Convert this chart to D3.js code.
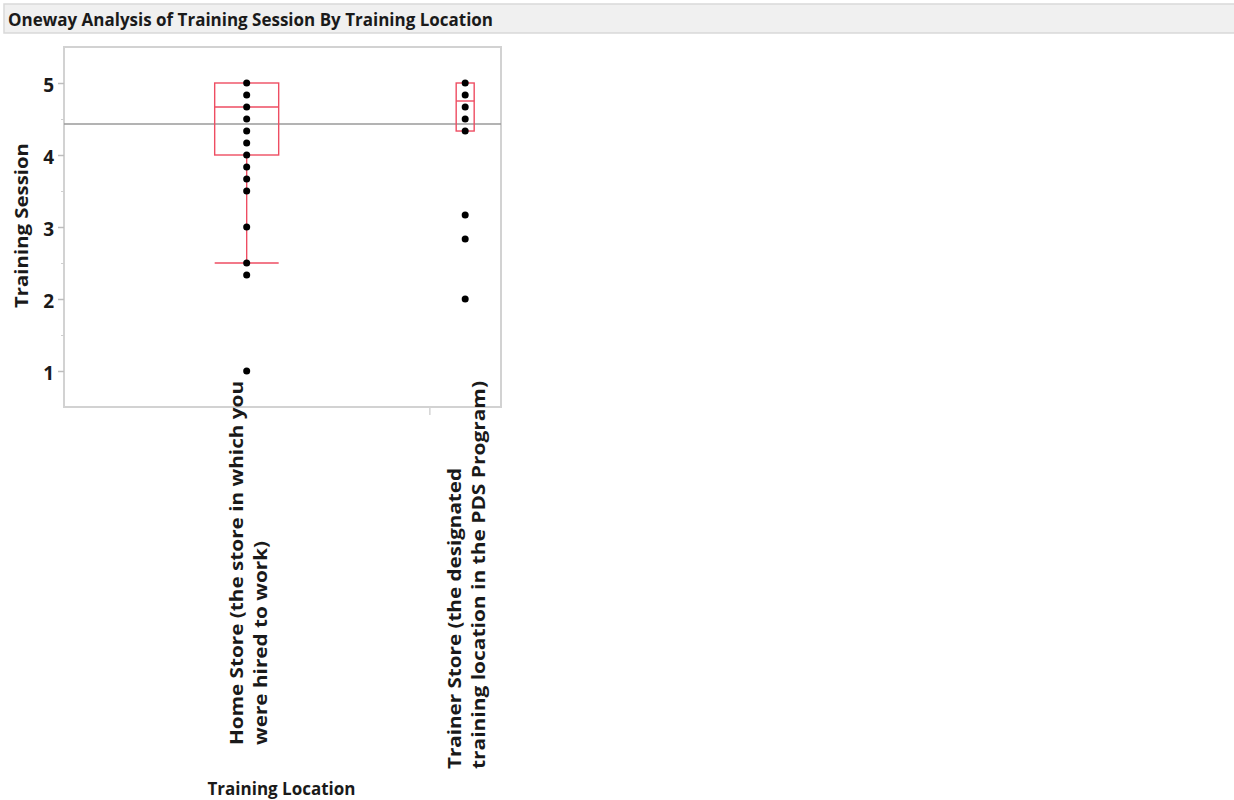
<!DOCTYPE html>
<html>
<head>
<meta charset="utf-8">
<script src="https://cdn.jsdelivr.net/npm/d3@7"></script>
<style>
  html, body { margin: 0; padding: 0; background: #ffffff; }
  svg { display: block; }
  text { font-family: "Open Sans", "DejaVu Sans", sans-serif; font-weight: 700; fill: #1a1a1a; }
</style>
</head>
<body>
<svg id="chart" width="1234" height="800"></svg>
<script>
// ---- data ----
const titleText = "Oneway Analysis of Training Session By Training Location";
const yTitle = "Training Session";
const xTitle = "Training Location";
const categories = ["Home Store", "Trainer Store"];
const categoryLabelLines = [
  ["Home Store (the store in which you", "were hired to work)"],
  ["Trainer Store (the designated", "training location in the PDS Program)"]
];
// relative group sizes (JMP makes each group's x band proportional to n)
const groupSizes = [51, 10];
const homeValues = [5, 4.833, 4.667, 4.5, 4.333, 4.167, 4, 3.833, 3.667, 3.5, 3, 2.5, 2.333, 1];
const trainerValues = [5, 4.833, 4.667, 4.5, 4.333, 3.167, 2.833, 2];
const q1Values = [4, 4.333];
const medianValues = [4.667, 4.75];
const q3Values = [5, 5];
const whiskerLow = [2.5, 4.333];
const whiskerHigh = [5, 5];
const grandMean = 4.43;
const yTicks = [1, 2, 3, 4, 5];
const yMinorTicks = [1.5, 2.5, 3.5, 4.5];

// ---- layout ----
const frame = { left: 64, right: 501, top: 47, bottom: 407 };
const boxWidths = [64, 18];
const boxColor = "#ee4d62";

const svg = d3.select("#chart");

// title bar
svg.append("rect")
  .attr("x", 4).attr("y", 4).attr("width", 1232).attr("height", 29)
  .attr("fill", "#f0f0f0").attr("stroke", "#d9d9d9").attr("stroke-width", 1.5);
svg.append("text")
  .attr("x", 8).attr("y", 26)
  .attr("font-size", 18)
  .attr("textLength", 485).attr("lengthAdjust", "spacingAndGlyphs")
  .text(titleText);

// scales
const y = d3.scaleLinear().domain([0.5, 5.5]).range([frame.bottom, frame.top]);
const totalN = d3.sum(groupSizes);
const x = d3.scaleLinear().domain([0, totalN]).range([frame.left, frame.right]);
const starts = groupSizes.map((d, i) => d3.sum(groupSizes.slice(0, i)));
const centers = groupSizes.map((d, i) => x(starts[i] + d / 2));

// frame
svg.append("rect")
  .attr("x", frame.left).attr("y", frame.top)
  .attr("width", frame.right - frame.left).attr("height", frame.bottom - frame.top)
  .attr("fill", "none").attr("stroke", "#d2d2d2").attr("stroke-width", 2);

// y axis
const yAxis = d3.axisLeft(y).tickValues(yTicks).tickSize(6).tickPadding(4).tickFormat(d3.format("d"));
const gy = svg.append("g").attr("transform", `translate(${frame.left},0)`).call(yAxis);
gy.select(".domain").remove();
gy.selectAll(".tick line").attr("stroke", "#bdbdbd").attr("stroke-width", 1.5);
gy.selectAll(".tick text")
  .attr("font-size", 19).attr("dy", "0.45em")
  .style("font-family", "\"Open Sans\", sans-serif").style("font-weight", 700).attr("fill", "#1a1a1a");
const gyMinor = svg.append("g").attr("transform", `translate(${frame.left},0)`)
  .call(d3.axisLeft(y).tickValues(yMinorTicks).tickSize(3).tickFormat(""));
gyMinor.select(".domain").remove();
gyMinor.selectAll(".tick line").attr("stroke", "#cfcfcf").attr("stroke-width", 1);

svg.append("text")
  .attr("transform", `translate(28,${(143 + 308) / 2}) rotate(-90)`)
  .attr("text-anchor", "middle")
  .attr("font-size", 17)
  .attr("textLength", 165).attr("lengthAdjust", "spacingAndGlyphs")
  .text(yTitle);

// x boundary ticks between groups
const gx = svg.append("g").attr("transform", `translate(0,${frame.bottom})`)
  .call(d3.axisBottom(x).tickValues(starts.slice(1)).tickSize(8).tickFormat(""));
gx.select(".domain").remove();
gx.selectAll(".tick line").attr("stroke", "#d4d4d4").attr("stroke-width", 1.5);

// grand mean line
svg.append("line")
  .attr("x1", frame.left).attr("x2", frame.right)
  .attr("y1", y(grandMean)).attr("y2", y(grandMean))
  .attr("stroke", "#9a9a9a").attr("stroke-width", 1.6);

// box plots
const boxes = svg.append("g");
categories.forEach((c, i) => {
  const cx = centers[i], w = boxWidths[i];
  const g = boxes.append("g").attr("stroke", boxColor).attr("stroke-width", 1.4).attr("fill", "none");
  g.append("rect")
    .attr("x", cx - w / 2).attr("y", y(q3Values[i]))
    .attr("width", w).attr("height", y(q1Values[i]) - y(q3Values[i]));
  g.append("line")
    .attr("x1", cx - w / 2).attr("x2", cx + w / 2)
    .attr("y1", y(medianValues[i])).attr("y2", y(medianValues[i]));
  if (whiskerLow[i] < q1Values[i]) {
    g.append("line").attr("x1", cx).attr("x2", cx)
      .attr("y1", y(q1Values[i])).attr("y2", y(whiskerLow[i]));
    g.append("line").attr("x1", cx - w / 2).attr("x2", cx + w / 2)
      .attr("y1", y(whiskerLow[i])).attr("y2", y(whiskerLow[i]));
  }
  if (whiskerHigh[i] > q3Values[i]) {
    g.append("line").attr("x1", cx).attr("x2", cx)
      .attr("y1", y(q3Values[i])).attr("y2", y(whiskerHigh[i]));
  }
});

// points
const groups = [homeValues, trainerValues];
groups.forEach((vals, i) => {
  svg.append("g").selectAll("circle").data(vals).join("circle")
    .attr("cx", centers[i]).attr("cy", d => y(d)).attr("r", 3.5)
    .attr("fill", "#000");
});

// category labels (rotated, two lines each, end aligned near the axis)
const labelLengths = [[364, 204], [301, 388]];
const labelEnd = 381;
categoryLabelLines.forEach((lines, i) => {
  const maxLen = d3.max(labelLengths[i]);
  const startY = labelEnd + maxLen;
  const baseX = centers[i] - 4;
  lines.forEach((line, j) => {
    svg.append("text")
      .attr("transform", `translate(${baseX + j * 24},${startY}) rotate(-90)`)
      .attr("text-anchor", "start")
      .attr("font-size", 17)
      .attr("textLength", labelLengths[i][j]).attr("lengthAdjust", "spacingAndGlyphs")
      .text(line);
  });
});

svg.append("text")
  .attr("x", (frame.left + frame.right) / 2 - 1).attr("y", 795)
  .attr("text-anchor", "middle")
  .attr("font-size", 18)
  .attr("textLength", 148).attr("lengthAdjust", "spacingAndGlyphs")
  .text(xTitle);
</script>
</body>
</html>
